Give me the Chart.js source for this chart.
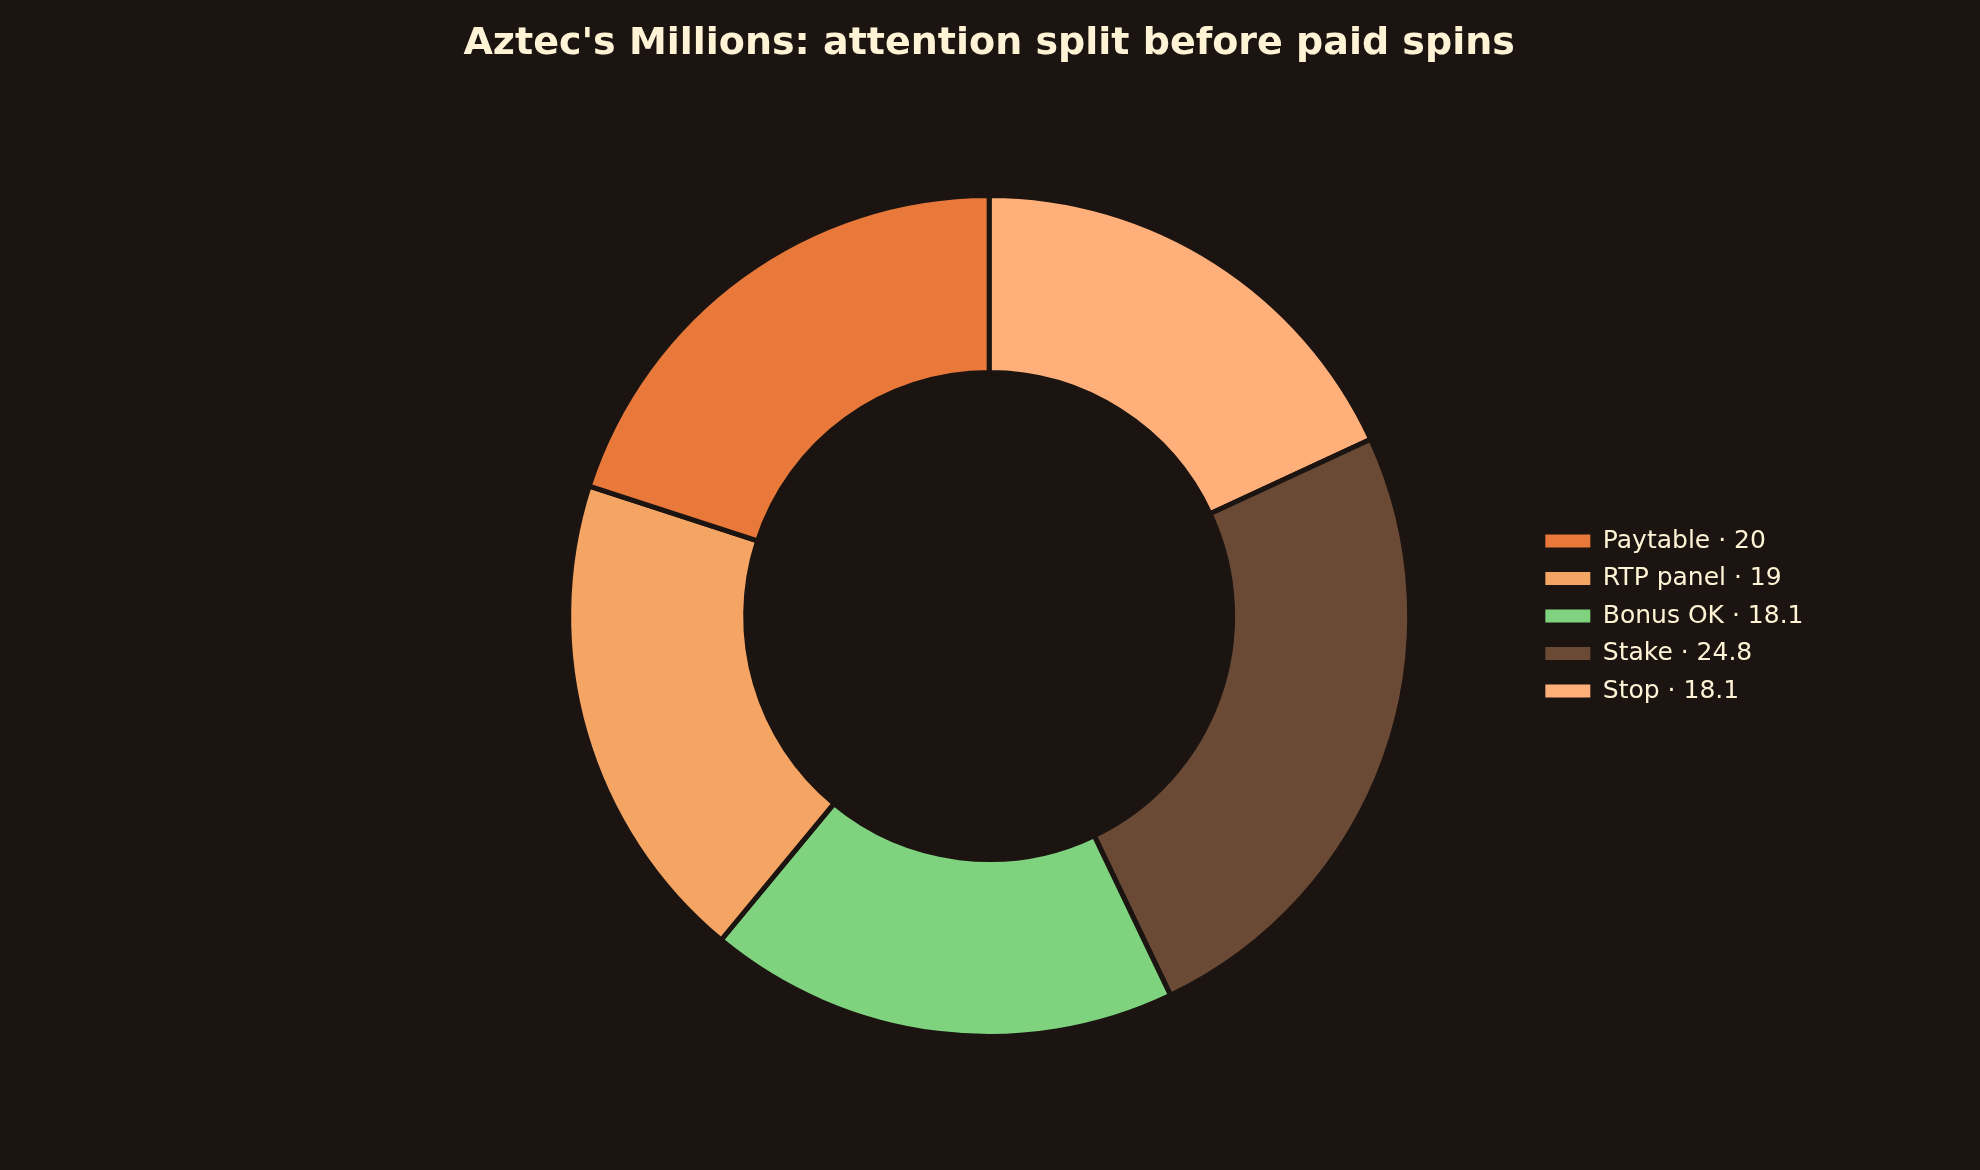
<!DOCTYPE html>
<html>
<head>
<meta charset="utf-8">
<script src="https://cdn.jsdelivr.net/npm/chart.js@4.4.1/dist/chart.umd.min.js"></script>
<style>
  html, body { margin: 0; padding: 0; background: #1c1411; }
  #grafica { display: block; }
</style>
</head>
<body>
<canvas id="grafica" width="1980" height="1170"></canvas>
<script>
// datos en el orden de la leyenda
const categorias = ['Paytable', 'RTP panel', 'Bonus OK', 'Stake', 'Stop'];
const valores = [20, 19, 18.1, 24.8, 18.1];
const colores = ['#e8793a', '#f4a563', '#7fd37f', '#6b4a35', '#ffb07a'];

const fondo = '#1c1411';
const crema = '#fff3d6';

// la referencia va en sentido antihorario desde arriba, Chart.js en horario:
// se invierte el orden y la leyenda se vuelve a invertir
const etiquetas = categorias.map((c, i) => c + ' \u00b7 ' + valores[i]).reverse();

document.addEventListener("DOMContentLoaded", function() {
    const ctx = document.getElementById('grafica').getContext('2d');
    const etiquetasBase = Chart.overrides.doughnut.plugins.legend.labels.generateLabels;

    new Chart(ctx, {
        type: 'doughnut',
        data: {
            labels: etiquetas,
            datasets: [{
                data: valores.slice().reverse(),
                backgroundColor: colores.slice().reverse(),
                borderColor: fondo,
                borderWidth: 5,
                hoverOffset: 0
            }]
        },
        options: {
            responsive: false,
            animation: false,
            devicePixelRatio: 1,
            cutout: '57.9%',
            layout: {
                padding: { left: 445.5, right: 166.5, top: 0, bottom: 131 }
            },
            plugins: {
                title: {
                    display: true,
                    fullSize: false, // centrado sobre la dona, no sobre el lienzo
                    text: "Aztec's Millions: attention split before paid spins",
                    color: crema,
                    font: { family: 'DejaVu Sans', size: 38, weight: 'bold', lineHeight: 1.2 },
                    padding: { top: 21, bottom: 126.4 }
                },
                legend: {
                    position: 'right',
                    align: 'center',
                    fullSize: false,
                    reverse: true,
                    labels: {
                        color: crema,
                        font: { family: 'DejaVu Sans', size: 25 },
                        boxWidth: 45,
                        boxHeight: 13,
                        padding: 12.5,
                        generateLabels: function(chart) {
                            return etiquetasBase(chart).map(function(item) {
                                item.lineWidth = 0; // sin borde en las cajas
                                return item;
                            });
                        }
                    }
                },
                tooltip: { enabled: false }
            }
        }
    });
});
</script>
</body>
</html>
